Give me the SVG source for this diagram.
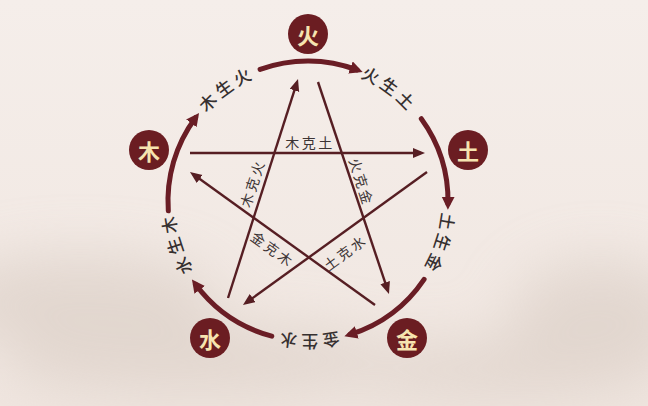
<svg xmlns="http://www.w3.org/2000/svg" width="648" height="406" viewBox="0 0 648 406">
  <defs>
    <style>
      .node circle { fill: #6b1d22; }
      .node text { font-family: "Noto Sans CJK SC", "Noto Sans CJK TC", sans-serif; font-size: 22px; font-weight: bold; fill: #f6e4b0; text-anchor: middle; dominant-baseline: central; }
      .ring { fill: none; stroke: #6a1d25; stroke-width: 5; stroke-linecap: round; marker-end: url(#ringArrow); }
      .star { fill: none; stroke: #561e23; stroke-width: 2.4; marker-end: url(#starArrow); }
      .ringlabel { font-family: "Noto Sans CJK SC", "Noto Sans CJK TC", sans-serif; font-size: 17px; font-weight: 500; fill: #363030; letter-spacing: 3.5px; text-anchor: middle; }
      .starlabel { font-family: "Noto Sans CJK SC", "Noto Sans CJK TC", sans-serif; font-size: 14px; fill: #3c3434; letter-spacing: 2.5px; text-anchor: middle; dominant-baseline: central; }
    </style>
    <marker id="ringArrow" markerUnits="userSpaceOnUse" markerWidth="14" markerHeight="14" refX="7" refY="6.5" orient="auto">
      <path d="M0,0 L13,6.5 L0,13 z" fill="#6a1d25"/>
    </marker>
    <marker id="starArrow" markerUnits="userSpaceOnUse" markerWidth="13" markerHeight="11" refX="8" refY="5" orient="auto">
      <path d="M0,0 L12,5 L0,10 z" fill="#561e23"/>
    </marker>
    <path id="ringPath" d="M 442 201 A 134 134 0 1 1 174 201 A 134 134 0 1 1 442 201"/>
    <filter id="blur" x="-50%" y="-50%" width="200%" height="200%">
      <feGaussianBlur stdDeviation="28"/>
    </filter>
    <linearGradient id="bg" x1="0" y1="0" x2="0" y2="1">
      <stop offset="0" stop-color="#f5eeea"/>
      <stop offset="1" stop-color="#f0e6e0"/>
    </linearGradient>
  </defs>

  <rect width="648" height="406" fill="url(#bg)"/>
  <g filter="url(#blur)" fill="#d6c9c0" opacity="0.55">
    <ellipse cx="80" cy="300" rx="140" ry="45"/>
    <ellipse cx="200" cy="360" rx="200" ry="35"/>
    <ellipse cx="600" cy="320" rx="90" ry="60"/>
    <ellipse cx="500" cy="370" rx="160" ry="28"/>
  </g>

  <g id="connectors">
    <path class="ring" d="M 260.1 69.4 A 140 140 0 0 1 357.0 69.9"/>
    <path class="ring" d="M 421.3 118.7 A 140 140 0 0 1 448.0 203.7"/>
    <path class="ring" d="M 424.1 279.3 A 140 140 0 0 1 350.1 334.5"/>
    <path class="ring" d="M 271.8 336.2 A 140 140 0 0 1 195.5 284.3"/>
    <path class="ring" d="M 168.3 210.8 A 140 140 0 0 1 195.5 117.7"/>

    <line class="star" x1="190" y1="153" x2="421" y2="153"/>
    <line class="star" x1="318" y1="82" x2="387.7" y2="290.2"/>
    <line class="star" x1="375" y1="305" x2="193.2" y2="174.3"/>
    <line class="star" x1="228" y1="298" x2="296.8" y2="82.8"/>
    <line class="star" x1="427" y1="172" x2="246.2" y2="302.7"/>
  </g>

  <g id="ring-labels">
    <text class="ringlabel"><textPath href="#ringPath" startOffset="65%">木生火</textPath></text>
    <text class="ringlabel"><textPath href="#ringPath" startOffset="85%">火生土</textPath></text>
    <text class="ringlabel"><textPath href="#ringPath" startOffset="5%">土生金</textPath></text>
    <text class="ringlabel"><textPath href="#ringPath" startOffset="25%">金生水</textPath></text>
    <text class="ringlabel"><textPath href="#ringPath" startOffset="45%">水生木</textPath></text>
  </g>

  <g id="star-labels">
    <text class="starlabel" x="310" y="142">木克土</text>
    <text class="starlabel" transform="translate(252 183) rotate(-72)">木克火</text>
    <text class="starlabel" transform="translate(362 182) rotate(72)">火克金</text>
    <text class="starlabel" transform="translate(273 249) rotate(36)">金克木</text>
    <text class="starlabel" transform="translate(345 252) rotate(-36)">土克水</text>
  </g>

  <g id="node-fire" class="node"><circle cx="308" cy="34" r="20"/><text x="308" y="34">火</text></g>
  <g id="node-earth" class="node"><circle cx="468" cy="150" r="20"/><text x="468" y="150">土</text></g>
  <g id="node-metal" class="node"><circle cx="407" cy="338" r="20"/><text x="407" y="338">金</text></g>
  <g id="node-water" class="node"><circle cx="210" cy="338" r="20"/><text x="210" y="338">水</text></g>
  <g id="node-wood" class="node"><circle cx="149" cy="150" r="20"/><text x="149" y="150">木</text></g>
</svg>
